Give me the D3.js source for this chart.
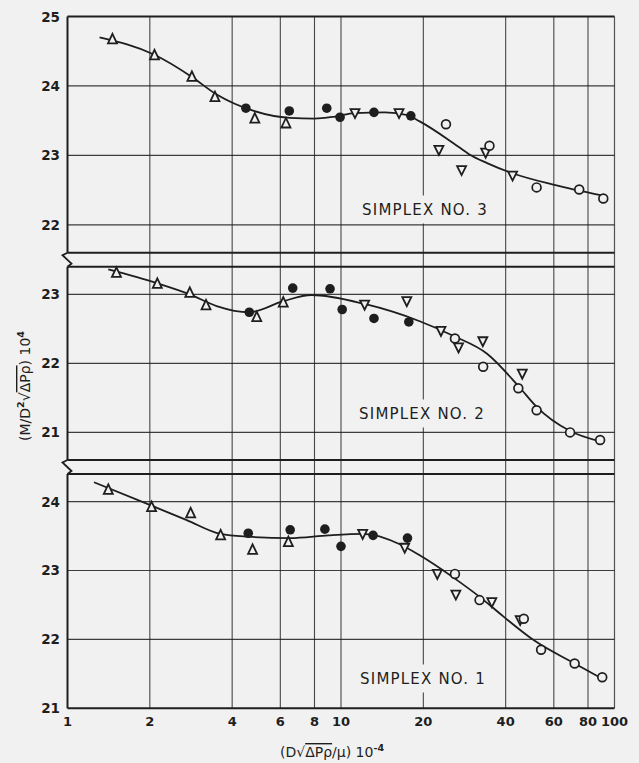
<!DOCTYPE html>
<html>
<head>
<meta charset="utf-8">
<script src="https://cdn.jsdelivr.net/npm/d3@7"></script>
<style>
  body { margin: 0; background: #f1f1f1; }
  svg { display: block; font-family: "DejaVu Sans", sans-serif; }
  .ovl { text-decoration: overline; }
</style>
</head>
<body>
<div id="chart"></div>
<script>
// x axis (log) ticks
const xTicks = [1, 2, 4, 6, 8, 10, 20, 40, 60, 80, 100];

// ---- simplex no. 3 (top) ----
const s3Tri = [[1.46, 24.67], [2.08, 24.44], [2.85, 24.13], [3.46, 23.84], [4.84, 23.53], [6.29, 23.46]];
const s3Dot = [[4.49, 23.68], [6.47, 23.64], [8.87, 23.68], [9.92, 23.55], [13.2, 23.62], [18.0, 23.57]];
const s3Inv = [[11.25, 23.61], [16.3, 23.61], [22.8, 23.08], [27.6, 22.79], [33.8, 23.04], [42.4, 22.71]];
const s3Ring = [[24.2, 23.45], [34.9, 23.14], [51.9, 22.54], [74.3, 22.51], [91.0, 22.38]];
const s3Curve = [[1.31, 24.70], [2.08, 24.45], [2.85, 24.13], [3.5, 23.88], [4.8, 23.64], [6.5, 23.54],
  [8.0, 23.53], [9.5, 23.56], [11.2, 23.61], [14.5, 23.62], [17.5, 23.58], [19.4, 23.49], [25.7, 23.18],
  [29.6, 23.01], [34.2, 22.89], [42.6, 22.74], [59.7, 22.58], [91, 22.42]];

// ---- simplex no. 2 (middle) ----
const s2Tri = [[1.51, 23.31], [2.13, 23.15], [2.80, 23.02], [3.21, 22.84], [4.92, 22.67], [6.15, 22.88]];
const s2Dot = [[4.62, 22.74], [6.66, 23.09], [9.12, 23.08], [10.1, 22.78], [13.2, 22.65], [17.7, 22.60]];
const s2Inv = [[12.2, 22.85], [17.4, 22.90], [23.2, 22.47], [26.9, 22.23], [33.0, 22.32], [46.0, 21.85]];
const s2Ring = [[26.1, 22.36], [33.1, 21.95], [44.5, 21.64], [51.9, 21.32], [68.8, 21.00], [88.6, 20.89]];
const s2Curve = [[1.41, 23.36], [2.13, 23.16], [2.8, 23.0], [3.51, 22.83], [4.62, 22.74],
  [6.15, 22.9], [7.8, 22.99], [12.2, 22.86], [19.4, 22.61], [25.7, 22.40],
  [34.2, 22.14], [45.0, 21.65], [51.9, 21.37], [68.8, 21.02], [88.6, 20.87]];

// ---- simplex no. 1 (bottom) ----
const s1Tri = [[1.41, 24.17], [2.03, 23.92], [2.82, 23.83], [3.63, 23.51], [4.75, 23.30], [6.42, 23.41]];
const s1Dot = [[4.58, 23.54], [6.52, 23.59], [8.73, 23.60], [10.0, 23.35], [13.1, 23.51], [17.5, 23.47]];
const s1Inv = [[12.0, 23.53], [17.1, 23.33], [22.5, 22.95], [26.3, 22.65], [35.6, 22.54], [45.2, 22.28]];
const s1Ring = [[26.1, 22.95], [32.1, 22.57], [46.6, 22.30], [53.9, 21.85], [71.5, 21.65], [90.2, 21.45]];
const s1Curve = [[1.25, 24.28], [2.03, 23.94], [2.73, 23.73], [3.63, 23.53], [4.58, 23.49], [6.52, 23.47],
  [9.0, 23.51], [12.1, 23.53], [16.4, 23.38], [19.4, 23.22], [25.7, 22.90], [32.3, 22.61],
  [39.3, 22.33], [50.6, 21.99], [71.5, 21.65], [90.2, 21.43]];

const panelNames = ["SIMPLEX  NO. 3", "SIMPLEX  NO. 2", "SIMPLEX  NO. 1"];
const yDomains = [[21.6, 25], [20.6, 23.4], [21, 24.4]];
const yTickSets = [[22, 23, 24, 25], [21, 22, 23], [21, 22, 23, 24]];

const W = 639, H = 763;
const bg = "#f1f1f1", ink = "#1e1e1e";
const x0 = 67.5, x1 = 614.5;
const bands = [[16.5, 252.7], [266.7, 460], [474, 708.3]];
const labelPos = [[425, 209], [422, 413], [423, 678]];

const svg = d3.select("#chart").append("svg")
  .attr("width", W).attr("height", H);
svg.append("rect").attr("width", W).attr("height", H).attr("fill", bg);

const x = d3.scaleLog().domain([1, 100]).range([x0, x1]);

const panels = [
  {tri: s3Tri, dot: s3Dot, inv: s3Inv, ring: s3Ring, curve: s3Curve},
  {tri: s2Tri, dot: s2Dot, inv: s2Inv, ring: s2Ring, curve: s2Curve},
  {tri: s1Tri, dot: s1Dot, inv: s1Inv, ring: s1Ring, curve: s1Curve}
];

// vertical grid, running through the whole stack
svg.append("g").selectAll("line")
  .data(xTicks.slice(1, -1))
  .join("line")
  .attr("x1", d => x(d)).attr("x2", d => x(d))
  .attr("y1", bands[0][0]).attr("y2", bands[2][1])
  .attr("stroke", ink).attr("stroke-width", 1.1).attr("opacity", 0.8);
// right border
svg.append("line").attr("x1", x1).attr("x2", x1)
  .attr("y1", bands[0][0]).attr("y2", bands[2][1])
  .attr("stroke", ink).attr("stroke-width", 1.2).attr("opacity", 0.75);

panels.forEach((p, i) => {
  const [top, bot] = bands[i];
  const y = d3.scaleLinear().domain(yDomains[i]).range([bot, top]);
  const g = svg.append("g");

  // horizontal grid
  g.selectAll("line.h")
    .data(yTickSets[i].filter(v => Math.abs(y(v) - top) > 2 && Math.abs(y(v) - bot) > 2))
    .join("line").attr("class", "h")
    .attr("x1", x0).attr("x2", x1)
    .attr("y1", d => y(d)).attr("y2", d => y(d))
    .attr("stroke", ink).attr("stroke-width", 1.2).attr("opacity", 0.85);

  // frame top/bottom
  [top, bot].forEach(yy => {
    g.append("line").attr("x1", x0).attr("x2", x1).attr("y1", yy).attr("y2", yy)
      .attr("stroke", ink).attr("stroke-width", 2);
  });
  // left border
  g.append("line").attr("x1", x0).attr("x2", x0).attr("y1", top).attr("y2", bot)
    .attr("stroke", ink).attr("stroke-width", 2);

  // y tick labels
  g.selectAll("text.yt")
    .data(yTickSets[i])
    .join("text").attr("class", "yt")
    .attr("x", 60).attr("y", d => y(d) + 5)
    .attr("text-anchor", "end")
    .attr("font-size", 13.5).attr("font-weight", "bold")
    .attr("fill", ink)
    .text(d => d);

  // panel label with a cut in the grid
  const lab = g.append("text")
    .attr("x", labelPos[i][0]).attr("y", labelPos[i][1] + 5.5)
    .attr("text-anchor", "middle")
    .attr("font-size", 15).attr("letter-spacing", 1.2)
    .attr("fill", ink)
    .text(panelNames[i]);
  const bb = lab.node().getBBox();
  g.insert("rect", "text")
    .attr("x", bb.x - 2).attr("y", bb.y - 5)
    .attr("width", bb.width + 4).attr("height", bb.height + 10)
    .attr("fill", bg);

  // curve
  const line = d3.line().x(d => x(d[0])).y(d => y(d[1])).curve(d3.curveMonotoneX);
  g.append("path").datum(p.curve)
    .attr("d", line)
    .attr("fill", "none").attr("stroke", ink).attr("stroke-width", 1.8);

  // markers
  g.selectAll("path.tri").data(p.tri).join("path").attr("class", "tri")
    .attr("d", d => {
      const cx = x(d[0]), cy = y(d[1]);
      return `M${cx},${cy - 5.5}L${cx + 4.5},${cy + 4}L${cx - 4.5},${cy + 4}Z`;
    })
    .attr("fill", bg).attr("stroke", ink).attr("stroke-width", 1.8);

  g.selectAll("path.inv").data(p.inv).join("path").attr("class", "inv")
    .attr("d", d => {
      const cx = x(d[0]), cy = y(d[1]);
      return `M${cx - 4.5},${cy - 4}L${cx + 4.5},${cy - 4}L${cx},${cy + 5}Z`;
    })
    .attr("fill", bg).attr("stroke", ink).attr("stroke-width", 1.8);

  g.selectAll("circle.ring").data(p.ring).join("circle").attr("class", "ring")
    .attr("cx", d => x(d[0])).attr("cy", d => y(d[1])).attr("r", 4.4)
    .attr("fill", bg).attr("stroke", ink).attr("stroke-width", 1.7);

  g.selectAll("circle.dot").data(p.dot).join("circle").attr("class", "dot")
    .attr("cx", d => x(d[0])).attr("cy", d => y(d[1])).attr("r", 4.8)
    .attr("fill", ink);
});

// axis breaks between the panels (zigzag on left edge)
[[bands[0][1], bands[1][0]], [bands[1][1], bands[2][0]]].forEach(([a, b]) => {
  svg.append("path")
    .attr("d", `M${x0},${a}L${x0 - 5},${a + 2.5}L${x0 + 4},${a + 11}L${x0},${b}`)
    .attr("fill", "none").attr("stroke", ink).attr("stroke-width", 1.8);
});

// x tick labels
svg.append("g").selectAll("text")
  .data(xTicks)
  .join("text")
  .attr("x", d => x(d)).attr("y", 726)
  .attr("text-anchor", "middle")
  .attr("font-size", 13).attr("font-weight", "bold")
  .attr("fill", ink)
  .text(d => d);

// x axis title
const xt = svg.append("text")
  .attr("x", 332).attr("y", 757)
  .attr("text-anchor", "middle")
  .attr("font-size", 14).attr("fill", ink);
xt.append("tspan").text("(D\u221A");
xt.append("tspan").attr("class", "ovl").text("\u0394P\u03C1");
xt.append("tspan").text("/\u03BC) 10");
xt.append("tspan").attr("dy", -6).attr("font-size", 9.5).attr("font-weight", "bold").text("-4");

// y axis title
const yt = svg.append("text")
  .attr("transform", "translate(30,386) rotate(-90)")
  .attr("text-anchor", "middle")
  .attr("font-size", 14).attr("fill", ink);
yt.append("tspan").text("(M/D");
yt.append("tspan").attr("dy", -6).attr("font-size", 9.5).attr("font-weight", "bold").text("2");
yt.append("tspan").attr("dy", 6).text("\u221A");
yt.append("tspan").attr("class", "ovl").text("\u0394P\u03C1");
yt.append("tspan").text(") 10");
yt.append("tspan").attr("dy", -6).attr("font-size", 9.5).attr("font-weight", "bold").text("4");
</script>
</body>
</html>
